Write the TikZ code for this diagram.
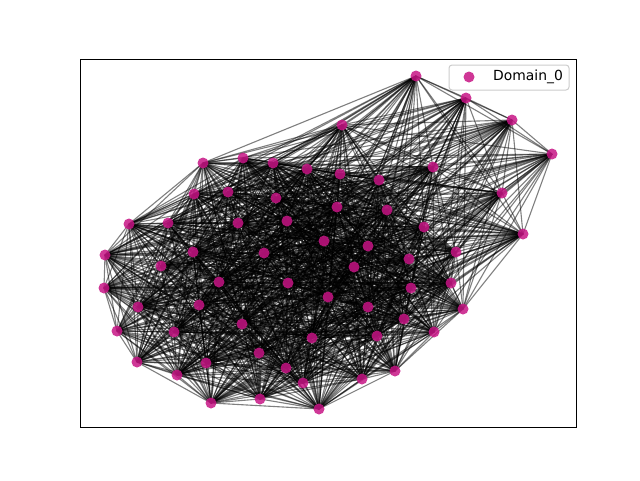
\documentclass[tikz,border=0pt]{standalone}
\usepackage{fontspec}
\setmainfont{DejaVu Sans}
\usetikzlibrary{backgrounds}
\definecolor{violetred}{HTML}{C71585}

\begin{document}
\begin{tikzpicture}[x=1pt,y=-1pt,
  dot/.style={circle,fill=violetred,fill opacity=0.85,inner sep=0pt,minimum size=11pt},
  edge/.style={draw=black,draw opacity=0.5,line width=1.1pt},
  frame/.style={draw=black,line width=1pt},
  legbox/.style={draw=black!20,fill=white,fill opacity=0.8,rounded corners=3pt,line width=1pt}]
\useasboundingbox (0,0) rectangle (640,480);
% nodes of the graph
\foreach \x/\y [count=\k] in {416/76,466/98,512/120,552/154,342/125,
  203/163,243/158,273/163,307/169,340/174,379/180,433/167,502/193,523/234,
  194/194,228/192,276/198,337/207,387/210,424/227,
  129/224,168/223,238/223,287/221,324/241,368/246,456/252,
  105/255,161/266,193/252,264/253,354/267,409/259,
  104/288,219/282,288/283,411/288,451/283,
  138/307,199/305,328/297,368/307,463/309,
  117/331,174/332,242/324,404/319,312/338,377/336,434/332,
  137/362,206/363,259/353,
  177/375,286/368,303/383,362/379,395/371,
  211/403,260/399,319/409}
  \node[dot] (n\k) at (\x,\y) {};
% edges, behind the nodes; long ones are rarer
\pgfmathsetseed{7}
\begin{pgfonlayer}{background}
\foreach \i in {1,...,60} {
  \pgfmathtruncatemacro\first{\i+1}
  \foreach \j in {\first,...,61} {
    \pgfpointdiff{\pgfpointanchor{n\i}{center}}{\pgfpointanchor{n\j}{center}}
    \pgfgetlastxy\dx\dy
    \pgfmathsetmacro\dist{veclen(\dx,\dy)}
    \pgfmathtruncatemacro\keep{rnd<1.3*exp(-\dist/300)}
    \ifnum\keep=1 \draw[edge] (n\i.center) -- (n\j.center); \fi
  }
}
\end{pgfonlayer}
\draw[frame] (80.5,59) rectangle (576,427.5);
% legend
\node[legbox,minimum width=120pt,minimum height=25pt] (leg) at (509,77.5) {};
\node[dot] (key) at (469,77) {};
\node[anchor=west,inner sep=0pt,font=\fontsize{13.9}{16}\selectfont] (lab) at (493,77) {Domain\_0};
\end{tikzpicture}
\end{document}
